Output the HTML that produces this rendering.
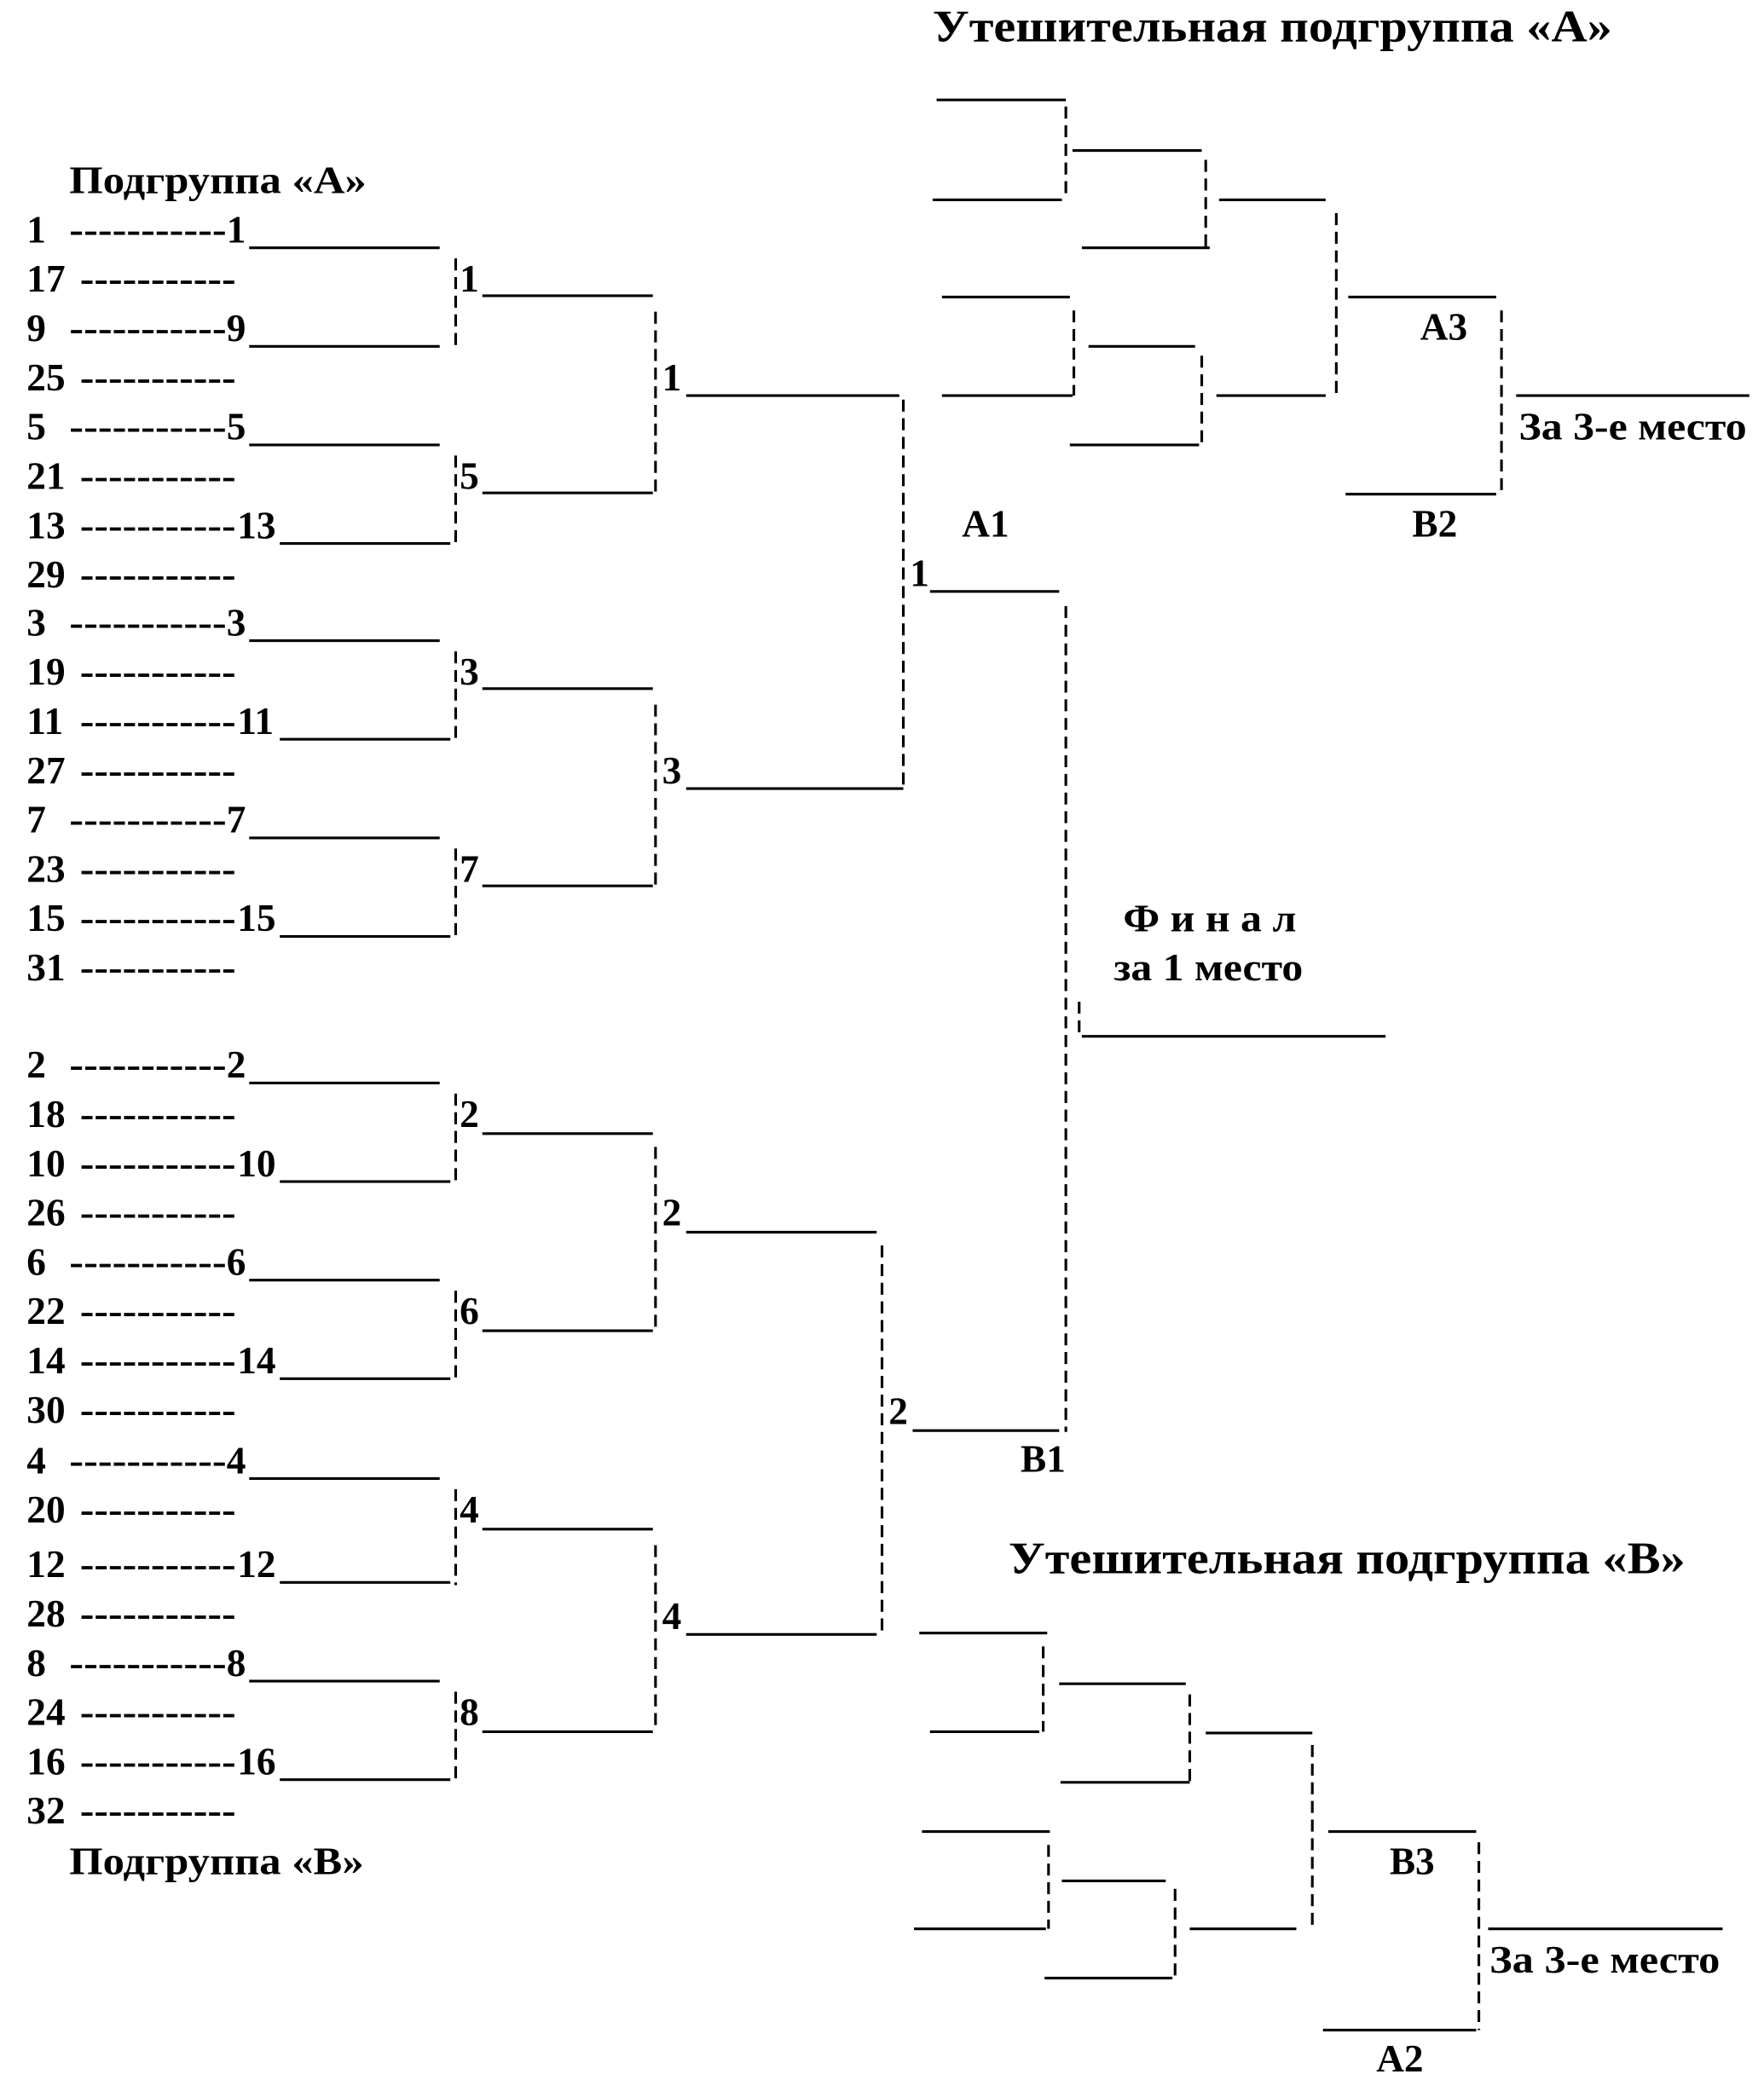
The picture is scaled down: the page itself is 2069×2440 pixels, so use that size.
<!DOCTYPE html>
<html><head><meta charset="utf-8"><style>
html,body{margin:0;padding:0;background:#fff;}
svg{display:block;}
text{font-family:"Liberation Serif","DejaVu Serif",serif;font-weight:bold;font-size:29px;fill:#000;}
.t{font-size:34px;}
line{stroke:#000;stroke-width:2;}
.d{stroke-dasharray:9 5;}
</style></head><body>
<svg width="2069" height="2440" viewBox="0 0 1324 1561.5" xmlns="http://www.w3.org/2000/svg">
<text x="52" y="145" textLength="223" lengthAdjust="spacingAndGlyphs">Подгруппа «А»</text>
<text x="52" y="1407" textLength="221" lengthAdjust="spacingAndGlyphs">Подгруппа «В»</text>

<!-- Block A1 -->
<g transform="translate(0,172)">
<text x="20" y="10">1</text><text x="52" y="10" textLength="118" lengthAdjust="spacingAndGlyphs">-----------</text><text x="170" y="10">1</text><line x1="187" y1="14" x2="330" y2="14"/>
<text x="20" y="47">17</text><text x="60" y="47" textLength="117" lengthAdjust="spacingAndGlyphs">-----------</text>
<text x="20" y="84">9</text><text x="52" y="84" textLength="118" lengthAdjust="spacingAndGlyphs">-----------</text><text x="170" y="84">9</text><line x1="187" y1="88" x2="330" y2="88"/>
<text x="20" y="121">25</text><text x="60" y="121" textLength="117" lengthAdjust="spacingAndGlyphs">-----------</text>
<text x="20" y="158">5</text><text x="52" y="158" textLength="118" lengthAdjust="spacingAndGlyphs">-----------</text><text x="170" y="158">5</text><line x1="187" y1="162" x2="330" y2="162"/>
<text x="20" y="195">21</text><text x="60" y="195" textLength="117" lengthAdjust="spacingAndGlyphs">-----------</text>
<text x="20" y="232">13</text><text x="60" y="232" textLength="117" lengthAdjust="spacingAndGlyphs">-----------</text><text x="178" y="232">13</text><line x1="210" y1="236" x2="338" y2="236"/>
<text x="20" y="269">29</text><text x="60" y="269" textLength="117" lengthAdjust="spacingAndGlyphs">-----------</text>
<line class="d" x1="342" y1="22" x2="342" y2="90"/><line class="d" x1="342" y1="170" x2="342" y2="236"/>
<text x="345" y="47">1</text><line x1="362" y1="50" x2="490" y2="50"/>
<text x="345" y="195">5</text><line x1="362" y1="198" x2="490" y2="198"/>
<line class="d" x1="492" y1="62" x2="492" y2="200"/>
<text x="497" y="121">1</text><line x1="515" y1="125" x2="675" y2="125"/>
</g>

<!-- Block A2 -->
<g transform="translate(0,467)">
<text x="20" y="10">3</text><text x="52" y="10" textLength="118" lengthAdjust="spacingAndGlyphs">-----------</text><text x="170" y="10">3</text><line x1="187" y1="14" x2="330" y2="14"/>
<text x="20" y="47">19</text><text x="60" y="47" textLength="117" lengthAdjust="spacingAndGlyphs">-----------</text>
<text x="20" y="84">11</text><text x="60" y="84" textLength="117" lengthAdjust="spacingAndGlyphs">-----------</text><text x="178" y="84">11</text><line x1="210" y1="88" x2="338" y2="88"/>
<text x="20" y="121">27</text><text x="60" y="121" textLength="117" lengthAdjust="spacingAndGlyphs">-----------</text>
<text x="20" y="158">7</text><text x="52" y="158" textLength="118" lengthAdjust="spacingAndGlyphs">-----------</text><text x="170" y="158">7</text><line x1="187" y1="162" x2="330" y2="162"/>
<text x="20" y="195">23</text><text x="60" y="195" textLength="117" lengthAdjust="spacingAndGlyphs">-----------</text>
<text x="20" y="232">15</text><text x="60" y="232" textLength="117" lengthAdjust="spacingAndGlyphs">-----------</text><text x="178" y="232">15</text><line x1="210" y1="236" x2="338" y2="236"/>
<text x="20" y="269">31</text><text x="60" y="269" textLength="117" lengthAdjust="spacingAndGlyphs">-----------</text>
<line class="d" x1="342" y1="22" x2="342" y2="90"/><line class="d" x1="342" y1="170" x2="342" y2="236"/>
<text x="345" y="47">3</text><line x1="362" y1="50" x2="490" y2="50"/>
<text x="345" y="195">7</text><line x1="362" y1="198" x2="490" y2="198"/>
<line class="d" x1="492" y1="62" x2="492" y2="200"/>
<text x="497" y="121">3</text><line x1="515" y1="125" x2="678" y2="125"/>
</g>

<!-- Block B1 -->
<g transform="translate(0,799)">
<text x="20" y="10">2</text><text x="52" y="10" textLength="118" lengthAdjust="spacingAndGlyphs">-----------</text><text x="170" y="10">2</text><line x1="187" y1="14" x2="330" y2="14"/>
<text x="20" y="47">18</text><text x="60" y="47" textLength="117" lengthAdjust="spacingAndGlyphs">-----------</text>
<text x="20" y="84">10</text><text x="60" y="84" textLength="117" lengthAdjust="spacingAndGlyphs">-----------</text><text x="178" y="84">10</text><line x1="210" y1="88" x2="338" y2="88"/>
<text x="20" y="121">26</text><text x="60" y="121" textLength="117" lengthAdjust="spacingAndGlyphs">-----------</text>
<text x="20" y="158">6</text><text x="52" y="158" textLength="118" lengthAdjust="spacingAndGlyphs">-----------</text><text x="170" y="158">6</text><line x1="187" y1="162" x2="330" y2="162"/>
<text x="20" y="195">22</text><text x="60" y="195" textLength="117" lengthAdjust="spacingAndGlyphs">-----------</text>
<text x="20" y="232">14</text><text x="60" y="232" textLength="117" lengthAdjust="spacingAndGlyphs">-----------</text><text x="178" y="232">14</text><line x1="210" y1="236" x2="338" y2="236"/>
<text x="20" y="269">30</text><text x="60" y="269" textLength="117" lengthAdjust="spacingAndGlyphs">-----------</text>
<line class="d" x1="342" y1="22" x2="342" y2="90"/><line class="d" x1="342" y1="170" x2="342" y2="236"/>
<text x="345" y="47">2</text><line x1="362" y1="52" x2="490" y2="52"/>
<text x="345" y="195">6</text><line x1="362" y1="200" x2="490" y2="200"/>
<line class="d" x1="492" y1="62" x2="492" y2="200"/>
<text x="497" y="121">2</text><line x1="515" y1="126" x2="658" y2="126"/>
</g>

<!-- Block B2 -->
<g transform="translate(0,1096)">
<text x="20" y="10">4</text><text x="52" y="10" textLength="118" lengthAdjust="spacingAndGlyphs">-----------</text><text x="170" y="10">4</text><line x1="187" y1="14" x2="330" y2="14"/>
<text x="20" y="47">20</text><text x="60" y="47" textLength="117" lengthAdjust="spacingAndGlyphs">-----------</text>
<text x="20" y="88">12</text><text x="60" y="88" textLength="117" lengthAdjust="spacingAndGlyphs">-----------</text><text x="178" y="88">12</text><line x1="210" y1="92" x2="338" y2="92"/>
<text x="20" y="125">28</text><text x="60" y="125" textLength="117" lengthAdjust="spacingAndGlyphs">-----------</text>
<text x="20" y="162">8</text><text x="52" y="162" textLength="118" lengthAdjust="spacingAndGlyphs">-----------</text><text x="170" y="162">8</text><line x1="187" y1="166" x2="330" y2="166"/>
<text x="20" y="199">24</text><text x="60" y="199" textLength="117" lengthAdjust="spacingAndGlyphs">-----------</text>
<text x="20" y="236">16</text><text x="60" y="236" textLength="117" lengthAdjust="spacingAndGlyphs">-----------</text><text x="178" y="236">16</text><line x1="210" y1="240" x2="338" y2="240"/>
<text x="20" y="273">32</text><text x="60" y="273" textLength="117" lengthAdjust="spacingAndGlyphs">-----------</text>
<line class="d" x1="342" y1="22" x2="342" y2="94"/><line class="d" x1="342" y1="174" x2="342" y2="240"/>
<text x="345" y="47">4</text><line x1="362" y1="52" x2="490" y2="52"/>
<text x="345" y="199">8</text><line x1="362" y1="204" x2="490" y2="204"/>
<line class="d" x1="492" y1="64" x2="492" y2="204"/>
<text x="497" y="127">4</text><line x1="515" y1="131" x2="658" y2="131"/>
</g>

<!-- Semis/final -->
<line class="d" x1="678" y1="300" x2="678" y2="592"/>
<text x="683" y="440">1</text><line x1="698" y1="444" x2="795" y2="444"/>
<line class="d" x1="662" y1="935" x2="662" y2="1227"/>
<text x="667" y="1069">2</text><line x1="685" y1="1074" x2="795" y2="1074"/>
<text x="766" y="1105">В1</text>
<line class="d" x1="800" y1="455" x2="800" y2="1075"/>
<line class="d" x1="810" y1="752" x2="810" y2="778"/><line x1="812" y1="778" x2="1040" y2="778"/>
<text x="843" y="699" textLength="130" lengthAdjust="spacingAndGlyphs">Ф и н а л</text>
<text x="836" y="736" textLength="142" lengthAdjust="spacingAndGlyphs">за 1 место</text>

<!-- Consolation A -->
<text class="t" x="700" y="31" textLength="510" lengthAdjust="spacingAndGlyphs">Утешительная подгруппа «А»</text>
<line x1="703" y1="75" x2="800" y2="75"/><line x1="700" y1="150" x2="797" y2="150"/>
<line class="d" x1="800" y1="80" x2="800" y2="150"/><line x1="805" y1="113" x2="902" y2="113"/>
<line x1="812" y1="186" x2="908" y2="186"/><line class="d" x1="905" y1="120" x2="905" y2="186"/>
<line x1="915" y1="150" x2="995" y2="150"/>
<line x1="707" y1="223" x2="803" y2="223"/><line x1="707" y1="297" x2="805" y2="297"/>
<line class="d" x1="806" y1="233" x2="806" y2="297"/><line x1="817" y1="260" x2="897" y2="260"/>
<line x1="803" y1="334" x2="900" y2="334"/><line class="d" x1="902" y1="267" x2="902" y2="334"/>
<line x1="913" y1="297" x2="995" y2="297"/>
<line class="d" x1="1003" y1="160" x2="1003" y2="297"/>
<line x1="1012" y1="223" x2="1123" y2="223"/><text x="1066" y="255">А3</text>
<line x1="1010" y1="371" x2="1123" y2="371"/><text x="1060" y="403">В2</text>
<line class="d" x1="1127" y1="233" x2="1127" y2="371"/>
<line x1="1138" y1="297" x2="1313" y2="297"/><text x="1140" y="330" textLength="171" lengthAdjust="spacingAndGlyphs">За 3-е место</text>
<text x="722" y="403">А1</text>

<!-- Consolation B -->
<text class="t" x="757" y="1181" textLength="508" lengthAdjust="spacingAndGlyphs">Утешительная подгруппа «В»</text>
<line x1="690" y1="1226" x2="786" y2="1226"/><line x1="698" y1="1300" x2="780" y2="1300"/>
<line class="d" x1="783" y1="1236" x2="783" y2="1300"/><line x1="795" y1="1264" x2="890" y2="1264"/>
<line x1="796" y1="1338" x2="893" y2="1338"/><line class="d" x1="893" y1="1272" x2="893" y2="1338"/>
<line x1="905" y1="1301" x2="985" y2="1301"/>
<line x1="692" y1="1375" x2="788" y2="1375"/><line x1="686" y1="1448" x2="785" y2="1448"/>
<line class="d" x1="787" y1="1385" x2="787" y2="1448"/><line x1="797" y1="1412" x2="875" y2="1412"/>
<line x1="784" y1="1485" x2="880" y2="1485"/><line class="d" x1="882" y1="1418" x2="882" y2="1485"/>
<line x1="893" y1="1448" x2="973" y2="1448"/>
<line class="d" x1="985" y1="1310" x2="985" y2="1448"/>
<line x1="997" y1="1375" x2="1108" y2="1375"/><text x="1043" y="1407">В3</text>
<line x1="993" y1="1524" x2="1108" y2="1524"/><text x="1033" y="1555">А2</text>
<line class="d" x1="1110" y1="1383" x2="1110" y2="1524"/>
<line x1="1117" y1="1448" x2="1293" y2="1448"/><text x="1118" y="1481" textLength="173" lengthAdjust="spacingAndGlyphs">За 3-е место</text>
</svg>
</body></html>
